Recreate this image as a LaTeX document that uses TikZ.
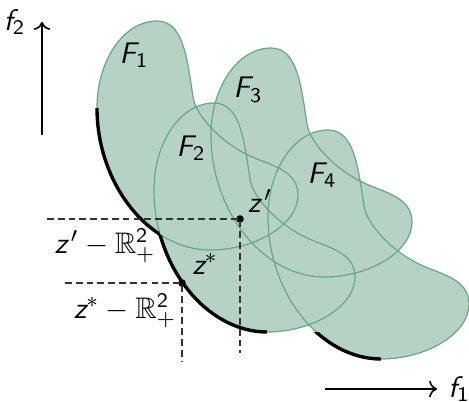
\documentclass[tikz,border=0pt]{standalone}
\usepackage{amsmath,amssymb}
\usepackage{tikz}
\usetikzlibrary{arrows.meta,calc,positioning}
\definecolor{setfill}{HTML}{B6D2C4}
\definecolor{setline}{HTML}{6DA58A}

% sans letters for the labels
\newcommand{\sv}[1]{\text{\sffamily\slshape #1}}
\newcommand{\sn}[1]{\text{\sffamily #1}}

% one feasible set, drawn in the frame of F_1 (px units, y downwards)
\newcommand{\setshape}{(157,21) .. controls (124,21) and (97,60) .. (97,108)
  .. controls (97,185) and (150,250) .. (210,250)
  .. controls (255,250) and (298,225) .. (298,195)
  .. controls (298,170) and (270,165.3) .. (250,156)
  .. controls (220,142) and (195.7,115) .. (193,97)
  .. controls (187,57) and (183,21) .. (157,21) -- cycle}
% its lower left part
\newcommand{\frontseg}{(97,108) .. controls (97,185) and (150,250) .. (210,250)}

\begin{document}
\begin{tikzpicture}[
  x=0.013cm,y=-0.013cm,
  setbody/.style={fill=setfill},
  setedge/.style={draw=setline,line width=0.45pt},
  front/.style={black,line width=1.25pt},
  guide/.style={black!80,line width=0.4pt,dash pattern=on 2.5pt off 1.5pt},
  axis/.style={->,line width=0.6pt},
  dot/.style={circle,fill=black,inner sep=0pt,minimum size=2.8pt},
  lab/.style={font=\fontsize{11}{13}\selectfont,inner sep=1pt}
]
\useasboundingbox (0,0) rectangle (469,402);

% the four sets
\foreach \dx/\dy in {0/0,57/82,114/27,171/109}
  \fill[setbody,shift={(\dx,\dy)}] \setshape;
\foreach \dx/\dy in {0/0,57/82,114/27,171/109}
  \draw[setedge,shift={(\dx,\dy)}] \setshape;

% pareto front
\begin{scope}[even odd rule,shift={(57,82)}]
  \clip (-700,-700) rectangle (700,700) \setshape;
  \draw[front,shift={(-57,-82)}] \frontseg;
\end{scope}
\begin{scope}[even odd rule]
  \clip (-700,-700) rectangle (700,700) \setshape;
  \draw[front,shift={(57,82)}] \frontseg;
\end{scope}
\begin{scope}
  \clip (0,332) rectangle (469,402);
  \draw[front,shift={(171,109)}] \frontseg;
\end{scope}

\node[lab] (F1) at (134,55) {$\sv{F}_{\sn{1}}$};
\node[lab] (F2) at (191,148) {$\sv{F}_{\sn{2}}$};
\node[lab] (F3) at (248,90) {$\sv{F}_{\sn{3}}$};
\node[lab] (F4) at (322,175) {$\sv{F}_{\sn{4}}$};

% points and their cones
\node[dot] (zp) at (240,219) {};
\node[dot] (zs) at (182,283) {};
\coordinate (zpW) at (47,219);
\coordinate (zpS) at (240,353);
\coordinate (zsW) at (65,283);
\coordinate (zsS) at (182,362);
\draw[guide] (zpW) -- (zp.center) -- (zpS);
\draw[guide] (zsW) -- (zs.center) -- (zsS);
\node[lab] (zplab) at (260,201) {$\sv{z}^{\,\prime}$};
\node[lab] (zslab) at (205,264) {$\sv{z}^*$};
\node[lab] (zpcone) at (105,246) {$\sv{z}^{\,\prime}-\mathbb{R}^{\sn{2}}_+$};
\node[lab] (zscone) at (125,311) {$\sv{z}^*-\mathbb{R}^{\sn{2}}_+$};

% objectives
\coordinate (f2a) at (42,135);
\coordinate (f2b) at (42,22);
\coordinate (f1a) at (325,389);
\coordinate (f1b) at (437,389);
\draw[axis] (f2a) -- (f2b);
\draw[axis] (f1a) -- (f1b);
\node[lab,left=5pt of f2b] (f2lab) {$\sv{f}_{\sn{2}}$};
\node[lab,right=3pt of f1b] (f1lab) {$\sv{f}_{\sn{1}}$};
\end{tikzpicture}
\end{document}
